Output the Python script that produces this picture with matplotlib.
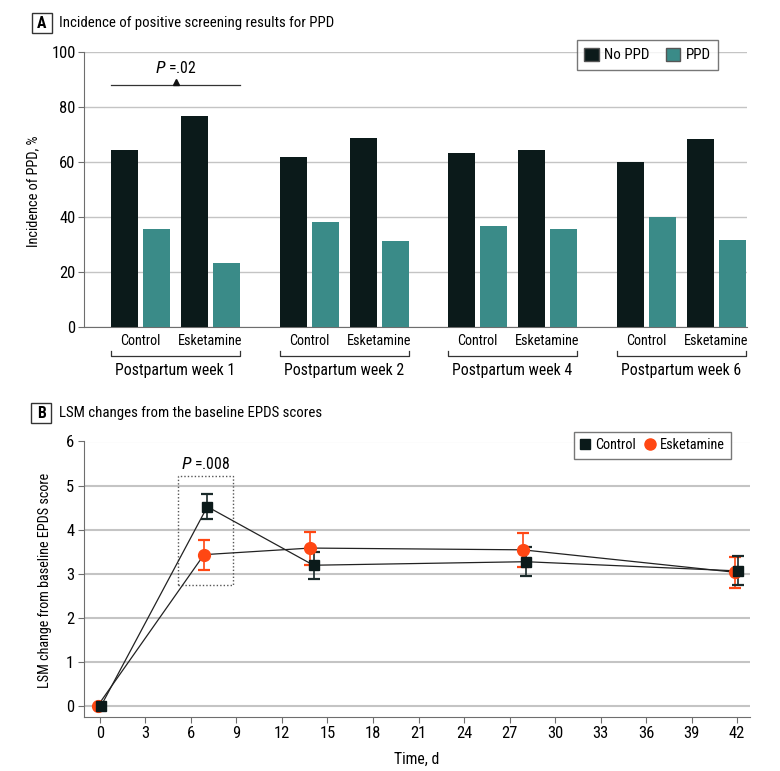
import matplotlib
matplotlib.use("Agg")
import matplotlib.pyplot as plt
import matplotlib.transforms as mtransforms
from matplotlib import font_manager as fm
from matplotlib.patches import Rectangle, Patch
from matplotlib.lines import Line2D
import numpy as np

# Prefer a condensed face if one is installed; otherwise Liberation Sans
try:
    fm.findfont(fm.FontProperties(family="Roboto Condensed"), fallback_to_default=False)
    FAMILY = ["Roboto Condensed", "Liberation Sans", "DejaVu Sans"]
    K = 1.13
except Exception:
    FAMILY = ["Liberation Sans", "DejaVu Sans"]
    K = 1.0
plt.rcParams['font.family'] = FAMILY

# ---------------- Data ----------------
weeks = ["Postpartum week 1", "Postpartum week 2", "Postpartum week 4", "Postpartum week 6"]
groups = ["Control", "Esketamine"]
series_a = ["No PPD", "PPD"]
no_ppd_control = [64.5, 61.8, 63.3, 60.0]
ppd_control = [35.5, 38.2, 36.7, 40.0]
no_ppd_esk = [76.9, 68.7, 64.2, 68.5]
ppd_esk = [23.1, 31.3, 35.8, 31.5]

days = [0, 7, 14, 28, 42]
control_mean = [0.0, 4.52, 3.19, 3.27, 3.06]
control_lo = [0.0, 4.24, 2.88, 2.94, 2.73]
control_hi = [0.0, 4.80, 3.49, 3.60, 3.39]
esk_mean = [0.0, 3.43, 3.58, 3.54, 3.03]
esk_lo = [0.0, 3.09, 3.20, 3.15, 2.68]
esk_hi = [0.0, 3.77, 3.95, 3.93, 3.38]
xticks_b = list(range(0, 43, 3))

dark = "#0b1a1a"
teal = "#3a8b88"
orange = "#ff4713"
grid_c = "#c4c4c4"
spine_c = "#6e6e6e"

fig = plt.figure(figsize=(7.8, 7.71), dpi=100)
W, H = 780, 771

def ax_rect(l, t, r, b):
    return [l / W, 1 - b / H, (r - l) / W, (b - t) / H]

# ---------------- Panel A ----------------
axA = fig.add_axes(ax_rect(84, 52, 747, 327))
bw = 27
grp_step = 168.5
off = {"nc": 40.5, "pc": 72.5, "ne": 110.5, "pe": 142.5}
gi = np.arange(len(weeks))
axA.bar(gi * grp_step + off["nc"], no_ppd_control, width=bw, color=dark, zorder=3)
axA.bar(gi * grp_step + off["pc"], ppd_control, width=bw, color=teal, zorder=3)
axA.bar(gi * grp_step + off["ne"], no_ppd_esk, width=bw, color=dark, zorder=3)
axA.bar(gi * grp_step + off["pe"], ppd_esk, width=bw, color=teal, zorder=3)
axA.set_xlim(0, 663)
axA.set_ylim(0, 100)
axA.set_yticks([0, 20, 40, 60, 80, 100])
axA.yaxis.grid(True, color=grid_c, lw=1.0, zorder=0)
axA.set_xticks([])
for s in ["top", "right"]:
    axA.spines[s].set_visible(False)
axA.spines["left"].set_color(spine_c)
axA.spines["bottom"].set_color(spine_c)
axA.tick_params(axis="y", color=spine_c, length=4, labelsize=10.5 * K, pad=2)
axA.set_ylabel("Incidence of PPD, %", fontsize=9.2 * K)
axA.yaxis.set_label_coords(40 / W, 1 - 191 / H, transform=fig.transFigure)

trA = mtransforms.blended_transform_factory(axA.transData, fig.transFigure)
for i, wk in enumerate(weeks):
    base = i * grp_step
    l = base + off["nc"] - bw / 2
    r = base + off["pe"] + bw / 2
    yb = 1 - 356 / H
    yt = 1 - 351 / H
    axA.plot([l, l, r, r], [yt, yb, yb, yt], color="#333333", lw=0.9,
             transform=trA, clip_on=False)
    axA.text((base + off["nc"] + base + off["pc"]) / 2, 1 - 341 / H, groups[0],
             transform=trA, ha="center", va="center", fontsize=9 * K)
    axA.text((base + off["ne"] + base + off["pe"]) / 2, 1 - 341 / H, groups[1],
             transform=trA, ha="center", va="center", fontsize=9 * K)
    axA.text((l + r) / 2, 1 - 370 / H, wk, transform=trA, ha="center",
             va="center", fontsize=10 * K)

# P annotation
pl = off["nc"] - bw / 2
pr = off["pe"] + bw / 2
axA.plot([pl, pr], [88, 88], color="#333333", lw=0.9, zorder=4)
axA.plot([(pl + pr) / 2], [89.0], marker="^", color="#111111", ms=4.5, zorder=5)
axA.text((pl + pr) / 2, 94.2, "$P$ =.02", ha="center", va="center", fontsize=10 * K)

legA = axA.legend(handles=[Patch(facecolor=dark, edgecolor="#555555", label="No PPD"),
                           Patch(facecolor=teal, edgecolor="#555555", label="PPD")],
                  loc="upper right", bbox_to_anchor=(718 / W, 1 - 40 / H),
                  bbox_transform=fig.transFigure, ncol=2, frameon=True,
                  fancybox=False, edgecolor="#555555", fontsize=9.6 * K,
                  handlelength=0.95, handleheight=0.95, columnspacing=1.1,
                  handletextpad=0.35, borderpad=0.5, borderaxespad=0)
legA.get_frame().set_linewidth(1.0)

# Panel A title
fig.patches.append(Rectangle((32 / W, 1 - 33 / H), 20 / W, 20 / H, transform=fig.transFigure,
                             fill=False, edgecolor="#333333", lw=1.0))
fig.text(42 / W, 1 - 23 / H, "A", ha="center", va="center", fontsize=10 * K, weight="bold")
fig.text(59 / W, 1 - 23 / H, "Incidence of positive screening results for PPD",
         ha="left", va="center", fontsize=9.5 * K)

# ---------------- Panel B ----------------
axB = fig.add_axes(ax_rect(84, 441.5, 750, 716.7))
axB.set_xlim(-1.05, 42.85)
axB.set_ylim(-0.25, 6.0)
axB.set_yticks(range(0, 7))
axB.set_xticks(xticks_b)
axB.yaxis.grid(True, color=grid_c, lw=1.5, zorder=0)
for s in ["top", "right"]:
    axB.spines[s].set_visible(False)
axB.spines["left"].set_color(spine_c)
axB.spines["bottom"].set_color(spine_c)
axB.tick_params(axis="both", color=spine_c, length=4, labelsize=10.5 * K, pad=3)

d = np.array(days, dtype=float)
cm, cl, ch = map(np.array, (control_mean, control_lo, control_hi))
em, el, eh = map(np.array, (esk_mean, esk_lo, esk_hi))
xc = d + 0.08
xe = d - 0.14
axB.plot(xc, cm, color="#222222", lw=0.9, zorder=3)
axB.plot(xe, em, color="#222222", lw=0.9, zorder=3)
mask = d > 0
axB.errorbar(xe[mask], em[mask], yerr=[em[mask] - el[mask], eh[mask] - em[mask]],
             fmt="none", ecolor=orange, elinewidth=1.2, capsize=4, capthick=1.6, zorder=4)
axB.errorbar(xc[mask], cm[mask], yerr=[cm[mask] - cl[mask], ch[mask] - cm[mask]],
             fmt="none", ecolor="#1a2a2a", elinewidth=1.2, capsize=4, capthick=1.6, zorder=5)
axB.plot(xe, em, ls="none", marker="o", ms=8.5, color=orange, zorder=6, clip_on=False)
axB.plot(xc, cm, ls="none", marker="s", ms=7.5, color=dark, zorder=7, clip_on=False)

# significance box
axB.add_patch(Rectangle((5.15, 2.75), 3.6, 2.47, fill=False, ls=(0, (1, 1.5)),
                        edgecolor="#555555", lw=1.0, zorder=2))
axB.text(6.95, 5.5, "$P$ =.008", ha="center", va="center", fontsize=10 * K)

axB.set_xlabel("Time, d", fontsize=10 * K)
axB.xaxis.set_label_coords(417 / W, 1 - 752 / H, transform=fig.transFigure)
axB.set_ylabel("LSM change from baseline EPDS score", fontsize=9 * K)
axB.yaxis.set_label_coords(52 / W, 1 - 580 / H, transform=fig.transFigure)

legB = axB.legend(handles=[Line2D([], [], ls="none", marker="s", ms=7, color=dark, label="Control"),
                           Line2D([], [], ls="none", marker="o", ms=8, color=orange, label="Esketamine")],
                  loc="upper right", bbox_to_anchor=(731 / W, 1 - 432 / H),
                  bbox_transform=fig.transFigure, ncol=2, frameon=True,
                  fancybox=False, edgecolor="#555555", fontsize=9.1 * K,
                  handlelength=0.7, columnspacing=0.6, handletextpad=0.35,
                  borderpad=0.45, borderaxespad=0)
legB.get_frame().set_linewidth(1.0)

fig.patches.append(Rectangle((31 / W, 1 - 423 / H), 20 / W, 20 / H, transform=fig.transFigure,
                             fill=False, edgecolor="#333333", lw=1.0))
fig.text(41 / W, 1 - 413 / H, "B", ha="center", va="center", fontsize=10 * K, weight="bold")
fig.text(59 / W, 1 - 413 / H, "LSM changes from the baseline EPDS scores",
         ha="left", va="center", fontsize=9.5 * K)

fig.savefig("out.png", dpi=100)
